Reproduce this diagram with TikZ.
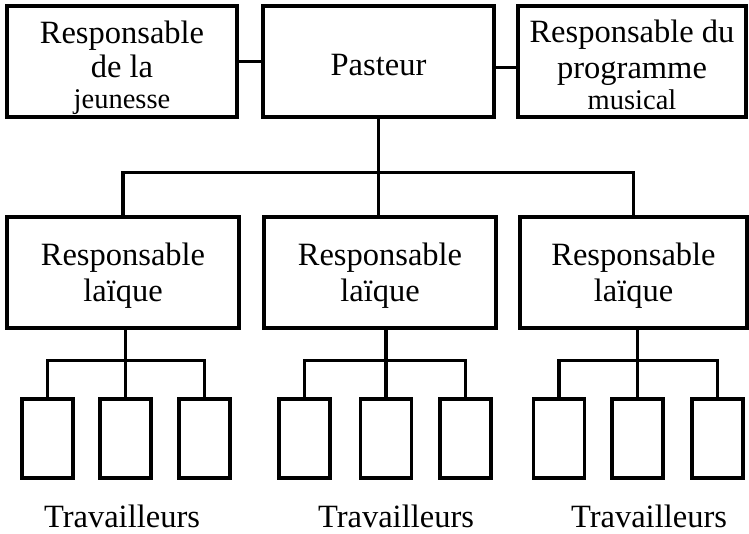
\documentclass[tikz,border=0pt]{standalone}
\usepackage{fontspec}
\setmainfont{Liberation Serif}
\usepackage{tikz}
\usetikzlibrary{positioning,calc}
\newcommand{\petit}{\fontsize{28.5}{31}\selectfont}
\newcommand{\haut}[1]{\rule{0pt}{#1}}

\begin{document}
\begin{tikzpicture}[x=1pt, y=1pt, line width=3.2pt,
    every node/.style={font=\fontsize{32.5}{36}\selectfont},
    post/.style={draw, minimum width=230pt, minimum height=111pt, inner sep=0pt, align=center},
    worker/.style={draw, minimum width=51pt, minimum height=79pt, inner sep=0pt}]
    \useasboundingbox (0,0) rectangle (749,534);
    % direction
    \node[post, minimum width=230pt] (jeunesse) at (122,472.5) {\haut{36pt}Responsable\\[-2pt]de la\\[-5pt]{\petit jeunesse}};
    \node[post, minimum width=231pt] (pasteur) at (378.5,472.5) {\haut{28pt}Pasteur};
    \node[post, minimum width=228pt] (musique) at (632,472.5) {\haut{30pt}Responsable du\\programme\\[-5pt]{\petit musical}};
    \draw (jeunesse) -- (pasteur);
    \draw ([yshift=-6pt]pasteur.east) -- ([yshift=-6pt]musique.west);
    % responsables laiques
    \node[post, minimum width=232pt] (laique1) at (123,261.5) {\haut{28pt}Responsable\\laïque};
    \node[post, minimum width=232pt] (laique2) at (380,261.5) {\haut{28pt}Responsable\\laïque};
    \node[post, minimum width=227pt] (laique3) at (633.5,261.5) {\haut{28pt}Responsable\\laïque};
    \coordinate (bus) at (380,361.5);
    \draw (pasteur.south) -- (pasteur.south |- laique2.north);
    \draw (laique1.north) |- (bus) -| (laique3.north);
    % travailleurs
    \foreach \g/\xa/\xb/\xc/\xt in {1/47.5/125.5/204.5/122, 2/304.5/386/465.5/396, 3/559/637.5/717.5/649} {
        \node[worker] (t\g a) at (\xa,95.5) {};
        \node[worker] (t\g b) at (\xb,95.5) {};
        \node[worker] (t\g c) at (\xc,95.5) {};
        \draw (t\g a.north) -- ++(0,37) -| (t\g c.north);
        \draw (laique\g.south -| t\g b.north) -- (t\g b.north);
        \node[anchor=base] (trav\g) at (\xt,6) {Travailleurs};
    }
\end{tikzpicture}
\end{document}
